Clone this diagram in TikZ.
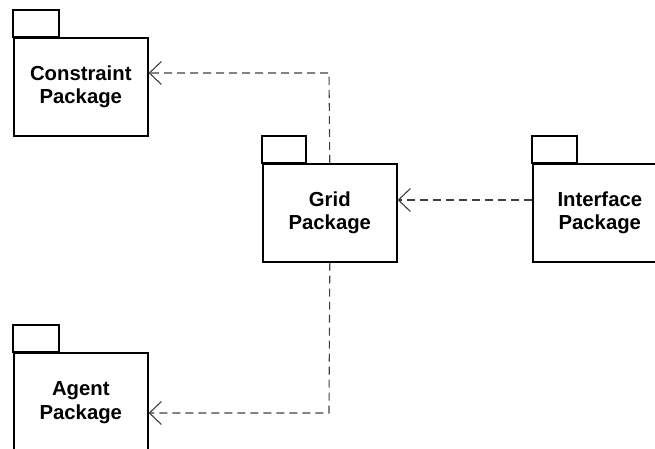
\documentclass[tikz,border=0pt]{standalone}
\usepackage{fontspec}
\setmainfont{Liberation Sans}
\usetikzlibrary{arrows.meta}
\begin{document}
\begin{tikzpicture}[x=1pt,y=-1pt,
  pkg/.style={draw=black,line width=1.6pt,minimum width=134pt,minimum height=98pt,inner sep=0pt,
    align=center,font=\fontsize{20.3}{23.5}\selectfont\bfseries},
  tab/.style={draw=black,line width=1.6pt},
  dep/.style={draw=black!75,line width=1.1pt,dash pattern=on 8pt off 5pt,
    -{Straight Barb[length=12pt,width=23pt,line width=1.1pt]}}]
\useasboundingbox (0,0) rectangle (655,449);
\clip (0,0) rectangle (655,449);
% Constraint
\node[pkg,anchor=north west] (con) at (13,37) {Constraint\\Package};
\draw[tab] (13,37) rectangle (59,10);
% Grid
\node[pkg,anchor=north west] (grid) at (262,163) {Grid\\Package};
\draw[tab] (262,163) rectangle (306,136);
% Interface
\node[pkg,anchor=north west] (intf) at (532,163) {Interface\\Package};
\draw[tab] (532,163) rectangle (577,136);
% Agent
\node[pkg,anchor=north west,minimum height=100pt] (agent) at (13,352) {Agent\\Package};
\draw[tab] (13,352) rectangle (59,325);
% dependencies
\coordinate (c1) at (329,73);
\coordinate (c2) at (329,413);
\coordinate (c3) at (0,200);
\draw[dep] (grid.north) -- (c1) -- (con.east |- c1);
\draw[dep] (intf.west |- c3) -- (grid.east |- c3);
\draw[dep] (grid.south) -- (c2) -- (agent.east |- c2);
\end{tikzpicture}
\end{document}
